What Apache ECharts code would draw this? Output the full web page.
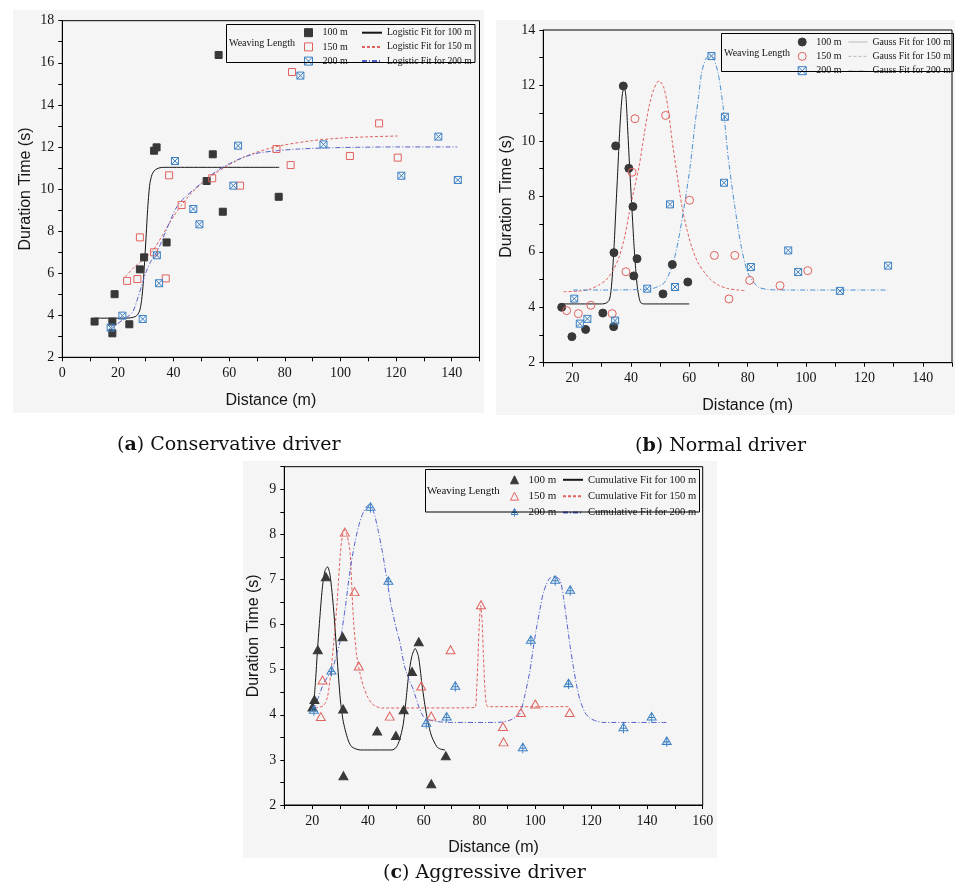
<!DOCTYPE html>
<html>
<head>
<meta charset="utf-8">
<script src="https://cdn.jsdelivr.net/npm/echarts@6/dist/echarts.min.js"></script>
<style>
  html, body { margin: 0; padding: 0; background: #ffffff; }
  #chart { width: 955px; height: 891px; }
</style>
</head>
<body>
<div id="chart"></div>
<script>
// ---------- (a) Conservative driver: observations ----------
const consDist100 = [11.6, 18.0, 18.0, 18.8, 24.1, 27.9, 29.4, 33.0, 33.9, 37.5, 51.9, 54.1, 56.2, 57.7, 77.8];
const consTime100 = [3.7, 3.7, 3.14, 5.0, 3.57, 6.18, 6.75, 11.82, 11.98, 7.46, 10.38, 11.65, 16.37, 8.92, 9.63];
const consDist150 = [23.3, 27.0, 27.9, 33.0, 37.2, 38.4, 42.9, 53.9, 63.9, 77.0, 82.1, 82.6, 103.4, 113.9, 120.6];
const consTime150 = [5.63, 5.72, 7.7, 6.99, 5.75, 10.65, 9.24, 10.51, 10.16, 11.9, 11.14, 15.56, 11.57, 13.12, 11.49];
const consDist200 = [17.4, 21.6, 28.9, 34.0, 34.8, 40.5, 47.1, 49.3, 61.5, 63.2, 85.6, 93.9, 121.9, 135.2, 142.2];
const consTime200 = [3.41, 3.98, 3.82, 6.85, 5.52, 11.33, 9.05, 8.32, 10.16, 12.06, 15.39, 12.12, 10.63, 12.49, 10.43];

// (a) logistic fit curves, [distance, time]
const consFit100 = [[11.6,3.86],[20,3.86],[24,3.87],[26.2,3.93],[27.2,4.05],[27.9,4.25],[28.5,4.7],[29.1,5.52],[29.7,6.78],[30.2,7.9],[30.6,8.85],[31.0,9.6],[31.5,10.27],[32.3,10.7],[33.3,10.9],[34.8,11.0],[36.3,11.03],[78,11.03]];
const consFit150 = [[22.6,5.83],[26,6.3],[30,6.75],[32.7,7.1],[36,7.8],[40,8.7],[42.9,9.24],[46,9.75],[50,10.25],[55,10.75],[60,11.15],[65,11.5],[70,11.75],[75,11.95],[80,12.1],[90,12.3],[100,12.42],[110,12.48],[120.6,12.52]];
const consFit200 = [[17.2,3.3],[19.5,3.55],[21.9,3.8],[24,3.98],[25.5,4.2],[27.3,4.88],[29,5.6],[30.4,6.15],[32,6.6],[34,7.0],[36,7.6],[38.5,8.4],[41.2,9.16],[44,9.6],[47.1,9.95],[51.9,10.5],[56,10.9],[60,11.2],[65,11.5],[70,11.7],[78,11.83],[85,11.9],[94,11.95],[105,11.98],[120,12.0],[142,12.0]];

// ---------- (b) Normal driver: observations ----------
const normDist100 = [16.3, 19.8, 24.5, 30.4, 34.1, 34.2, 34.8, 37.4, 39.3, 40.7, 41.0, 42.1, 51.0, 54.2, 59.5];
const normTime100 = [4.0, 2.94, 3.2, 3.79, 3.3, 5.97, 9.82, 11.98, 9.01, 7.63, 5.13, 5.75, 4.48, 5.54, 4.91];
const normDist150 = [18.0, 22.0, 26.3, 33.6, 38.3, 40.4, 41.4, 51.9, 60.1, 68.6, 73.6, 75.6, 80.7, 91.1, 100.6];
const normTime150 = [3.88, 3.77, 4.07, 3.77, 5.28, 8.87, 10.8, 10.92, 7.86, 5.87, 4.3, 5.87, 4.97, 4.78, 5.32];
const normDist200 = [20.6, 22.5, 25.1, 34.6, 45.6, 53.4, 55.1, 67.6, 71.9, 72.2, 81.1, 93.9, 97.3, 111.6, 128.1];
const normTime200 = [4.31, 3.41, 3.58, 3.52, 4.67, 7.71, 4.73, 13.06, 8.49, 10.87, 5.45, 6.05, 5.27, 4.59, 5.5];

// (b) Gauss fit curves
const normFit100 = [[16,4.12],[30,4.12],[31.5,4.15],[32.6,4.26],[33.2,4.6],[33.7,5.23],[34.3,6.3],[34.9,7.63],[35.5,8.9],[36.0,10.03],[36.6,11.1],[37.1,11.7],[37.7,11.96],[38.3,11.6],[38.8,10.64],[39.4,9.4],[40.0,8.23],[40.6,7.1],[41.1,6.19],[41.7,5.3],[42.2,4.74],[42.8,4.35],[43.4,4.16],[44.5,4.12],[60,4.12]];
const normFit150 = [[17,4.56],[22,4.58],[26,4.65],[29,4.8],[31.5,4.98],[34,5.35],[36,5.82],[38,6.6],[39.4,7.39],[41,8.2],[42.8,9.07],[44.5,10.2],[46.2,11.23],[47.8,11.85],[49.6,12.17],[51.2,11.95],[52.7,11.2],[54.1,10.03],[55.8,8.8],[57.5,7.63],[59.2,6.8],[60.8,6.19],[63,5.6],[65.4,5.23],[67.5,4.98],[69.9,4.8],[73,4.68],[76.7,4.62],[78.9,4.6]];
const normFit200 = [[20.2,4.62],[30,4.62],[40,4.63],[45,4.65],[47.9,4.69],[51.3,4.87],[54.1,5.46],[56.3,6.43],[58.6,7.87],[60.3,9.07],[62.0,10.64],[63.2,11.6],[64.2,12.44],[65.6,12.95],[67.1,13.1],[68.6,12.9],[69.9,12.44],[71.6,11.23],[73.3,9.43],[75.6,7.63],[77.8,6.19],[80.1,5.23],[83.5,4.74],[87,4.64],[95,4.62],[128,4.62]];

// ---------- (c) Aggressive driver: observations ----------
const aggrDist100 = [20.1, 20.8, 22.0, 24.9, 30.9, 31.1, 31.2, 43.3, 50.0, 52.8, 55.8, 58.2, 62.7, 67.9];
const aggrTime100 = [4.17, 4.34, 5.44, 7.06, 5.73, 4.13, 2.65, 3.64, 3.54, 4.11, 4.96, 5.62, 2.47, 3.09];
const aggrDist150 = [23.1, 23.7, 31.7, 35.2, 36.7, 47.8, 59.1, 62.7, 69.6, 80.5, 88.4, 88.6, 94.8, 100.0, 112.3];
const aggrTime150 = [3.96, 4.77, 8.05, 6.73, 5.08, 3.97, 4.64, 3.97, 5.44, 6.44, 3.74, 3.4, 4.05, 4.24, 4.05];
const aggrDist200 = [20.6, 26.9, 40.9, 47.3, 60.9, 68.2, 71.3, 95.5, 98.4, 107.1, 111.9, 112.5, 131.6, 141.7, 147.1];
const aggrTime200 = [4.09, 4.96, 8.59, 6.95, 3.8, 3.94, 4.62, 3.26, 5.64, 6.97, 4.68, 6.75, 3.7, 3.94, 3.4];

// (c) cumulative fit curves
const aggrFit100 = [[20.5,4.2],[21.2,4.75],[21.9,5.44],[22.8,6.2],[23.7,6.85],[24.6,7.2],[25.5,7.28],[26.4,7.1],[27.7,6.32],[28.9,5.29],[30.1,4.33],[31.0,3.9],[31.8,3.67],[33,3.42],[34.2,3.29],[37.2,3.22],[48.6,3.22],[50,3.27],[50.9,3.37],[51.8,3.55],[52.7,3.81],[53.6,4.3],[54.5,4.84],[55.7,5.29],[56.9,5.47],[58.1,5.29],[59.3,4.7],[60.2,4.3],[61.1,3.96],[62.0,3.7],[62.9,3.51],[64.7,3.29],[66,3.24],[67.6,3.22]];
const aggrFit150 = [[21,4.15],[24,4.2],[25.5,4.4],[26.8,5.0],[28.0,5.8],[28.9,6.47],[30.1,7.58],[30.8,7.95],[31.5,8.1],[32.3,8.0],[33.0,7.85],[33.6,7.58],[34.8,6.1],[36.0,5.29],[37.2,4.9],[38.4,4.62],[40,4.38],[41.4,4.25],[43,4.18],[45,4.15],[78.3,4.16],[78.9,4.5],[79.4,5.2],[79.9,6.0],[80.4,6.42],[80.9,6.1],[81.4,5.3],[81.9,4.6],[82.4,4.25],[83,4.18],[112.4,4.18]];
const aggrFit200 = [[20.5,4.11],[22.3,4.4],[24.1,4.7],[25.6,4.85],[27.1,4.99],[28.6,5.3],[30.1,5.66],[31.9,6.4],[33.6,7.21],[35.1,7.75],[36.6,8.17],[38.4,8.5],[40.2,8.65],[42,8.5],[43.6,8.1],[45.2,7.6],[46.8,6.99],[48.4,6.4],[50,5.95],[51.5,5.59],[53,5.1],[54.6,4.8],[56.3,4.55],[58.1,4.2],[59.9,3.96],[62.3,3.88],[64.7,3.85],[70,3.83],[85,3.83],[88,3.84],[90.9,3.88],[92.7,3.94],[94.5,4.03],[96.3,4.45],[98.1,4.99],[99.3,5.5],[100.5,5.95],[101.7,6.35],[102.8,6.69],[104,6.9],[105.2,7.03],[107,7.06],[108.8,6.99],[110,6.65],[111.2,6.1],[112.4,5.55],[113.6,5.07],[114.8,4.65],[116.0,4.33],[117.8,4.05],[119.6,3.92],[122,3.86],[124.3,3.83],[147,3.83]];

// ---------- tick values ----------
const consXTicks = [0, 20, 40, 60, 80, 100, 120, 140];
const consYTicks = [2, 4, 6, 8, 10, 12, 14, 16, 18];
const normXTicks = [20, 40, 60, 80, 100, 120, 140];
const normYTicks = [2, 4, 6, 8, 10, 12, 14];
const aggrXTicks = [20, 40, 60, 80, 100, 120, 140, 160];
const aggrYTicks = [2, 3, 4, 5, 6, 7, 8, 9];

const lengthLabels = ['100 m', '150 m', '200 m'];

// ---------- styling ----------
const SERIF = 'Liberation Serif';
const SANS = 'Liberation Sans';
const INK = '#151515';
const DARK = '#383838';
const RED = '#e0625f';
const BLUE = '#3c80c4';
const VIOLET = '#5360cc';

const BOX_X = 'path://M0,0H10V10H0Z M0,0L10,10 M10,0L0,10';
const TRI_PLUS = 'path://M5,0L10,9H0Z M5,0V12 M1.2,6H8.8';

const zip = (xs, ys) => xs.map((x, i) => [x, ys[i]]);
const pick = list => v => (list.indexOf(v) >= 0 ? String(v) : '');

function makeAxes(g, xr, yr, xTicks, yTicks, yGap) {
  const common = {
    gridIndex: g,
    type: 'value',
    nameLocation: 'middle',
    nameTextStyle: { fontFamily: SANS, fontSize: 16, color: INK },
    axisLine: { show: true, onZero: false, lineStyle: { color: '#000', width: 1 } },
    axisTick: { show: true, inside: false, length: 4, lineStyle: { color: '#000', width: 1 } },
    splitLine: { show: false },
    axisLabel: { fontFamily: SERIF, fontSize: 14, color: INK, margin: 9 }
  };
  const x = Object.assign({}, common, {
    name: 'Distance (m)', nameGap: 35,
    min: xr[0], max: xr[1], interval: 10,
    axisLabel: Object.assign({}, common.axisLabel, { formatter: pick(xTicks) })
  });
  const y = Object.assign({}, common, {
    name: 'Duration Time (s)', nameGap: yGap,
    min: yr[0], max: yr[1], interval: yr[2],
    axisLabel: Object.assign({}, common.axisLabel, { margin: 8, formatter: pick(yTicks) })
  });
  return [x, y];
}

const [ax, ay] = makeAxes(0, [0, 150], [2, 18, 1], consXTicks, consYTicks, 29);
const [bx, by] = makeAxes(1, [10, 150], [2, 14, 1], normXTicks, normYTicks, 29);
const [cx, cy] = makeAxes(2, [10, 160], [2, 9.5, 0.5], aggrXTicks, aggrYTicks, 23);

function scatter(name, g, data, symbol, size, fill, stroke) {
  return {
    type: 'scatter', name, xAxisIndex: g, yAxisIndex: g, data,
    symbol, symbolSize: size, symbolKeepAspect: false, z: 4, silent: true,
    itemStyle: { color: fill, borderColor: stroke, borderWidth: 1, opacity: 1 }
  };
}
function fit(name, g, data, color, type, width) {
  return {
    type: 'line', name, xAxisIndex: g, yAxisIndex: g, data,
    symbol: 'none', showSymbol: false, smooth: 0.25, z: 3, silent: true,
    itemStyle: { color, opacity: 0 },
    lineStyle: { color, width: width || 1, type }
  };
}

const DASH = [3, 2];
const DASHDOT = [5, 2, 1, 2];

const series = [
  fit('a|Logistic Fit for 100 m', 0, consFit100, INK, 'solid'),
  fit('a|Logistic Fit for 150 m', 0, consFit150, RED, DASH),
  fit('a|Logistic Fit for 200 m', 0, consFit200, VIOLET, DASHDOT),
  scatter('a|100 m', 0, zip(consDist100, consTime100), 'rect', 7, DARK, DARK),
  scatter('a|150 m', 0, zip(consDist150, consTime150), 'rect', 7, 'transparent', RED),
  scatter('a|200 m', 0, zip(consDist200, consTime200), BOX_X, 7, 'transparent', BLUE),

  fit('b|Gauss Fit for 100 m', 1, normFit100, INK, 'solid'),
  fit('b|Gauss Fit for 150 m', 1, normFit150, RED, DASH),
  fit('b|Gauss Fit for 200 m', 1, normFit200, '#4a8fd2', DASHDOT),
  scatter('b|100 m', 1, zip(normDist100, normTime100), 'circle', 8, DARK, DARK),
  scatter('b|150 m', 1, zip(normDist150, normTime150), 'circle', 8, 'transparent', RED),
  scatter('b|200 m', 1, zip(normDist200, normTime200), BOX_X, 7, 'transparent', BLUE),

  fit('c|Cumulative Fit for 100 m', 2, aggrFit100, INK, 'solid'),
  fit('c|Cumulative Fit for 150 m', 2, aggrFit150, RED, DASH),
  fit('c|Cumulative Fit for 200 m', 2, aggrFit200, VIOLET, DASHDOT),
  scatter('c|100 m', 2, zip(aggrDist100, aggrTime100), 'triangle', [9, 8], DARK, DARK),
  scatter('c|150 m', 2, zip(aggrDist150, aggrTime150), 'triangle', [9, 8], 'transparent', RED),
  scatter('c|200 m', 2, zip(aggrDist200, aggrTime200), TRI_PLUS, [9, 10], 'transparent', BLUE)
];

const stripPanel = name => name.slice(2);

function legend(panel, names, left, top, iw, ih, gap, fs, padLeft, isLine, lineStyle) {
  return {
    show: true, orient: 'vertical', left, top, padding: 0,
    itemWidth: iw, itemHeight: ih, itemGap: gap,
    selectedMode: false, inactiveColor: '#ccc',
    data: names.map(n => panel + '|' + n),
    formatter: stripPanel,
    itemStyle: isLine ? { opacity: 0, borderWidth: 0 } : { borderWidth: 1 },
    lineStyle: lineStyle || {},
    textStyle: { fontFamily: SERIF, fontSize: fs, lineHeight: ih, color: INK, padding: [0, 0, 0, padLeft] }
  };
}

const fitNames = kind => lengthLabels.map(l => kind + ' Fit for ' + l);

const legends = [
  legend('a', lengthLabels, 304, 27.7, 8, 8, 4.2, 10, 5, false),
  legend('a', fitNames('Logistic'), 361, 27.7, 20, 8, 4.2, 9.6, 0, true),
  legend('b', lengthLabels, 797.7, 37, 8, 8, 4.35, 10, 5, false),
  legend('b', fitNames('Gauss'), 848, 37, 19, 8, 4.35, 9.8, 0, true, { color: '#a8a8a8', width: 0.8 }),
  legend('c', lengthLabels, 510, 474.3, 8, 8, 5.35, 11, 5, false),
  legend('c', fitNames('Cumulative'), 562, 474.3, 20, 8, 5.35, 10.6, 0, true)
];

// panel backdrops, legend frames and the legend heading
const graphics = [
  { type: 'rect', z: -10, shape: { x: 13, y: 10, width: 471, height: 403 }, style: { fill: '#f5f5f5' } },
  { type: 'rect', z: -10, shape: { x: 496, y: 20, width: 459, height: 395 }, style: { fill: '#f5f5f5' } },
  { type: 'rect', z: -10, shape: { x: 243, y: 461, width: 474, height: 397 }, style: { fill: '#f5f5f5' } },
  { type: 'rect', z: 5, shape: { x: 226.5, y: 24.5, width: 248.5, height: 38 }, style: { fill: 'none', stroke: '#000', lineWidth: 1 } },
  { type: 'rect', z: 5, shape: { x: 721.5, y: 33.5, width: 232, height: 38 }, style: { fill: 'none', stroke: '#000', lineWidth: 1 } },
  { type: 'rect', z: 5, shape: { x: 425.5, y: 469.5, width: 274, height: 42.5 }, style: { fill: 'none', stroke: '#000', lineWidth: 1 } },
  { type: 'text', z: 6, x: 229, y: 43.7, style: { text: 'Weaving Length', fontFamily: SERIF, fontSize: 10, fill: INK, verticalAlign: 'middle' } },
  { type: 'text', z: 6, x: 724, y: 53.3, style: { text: 'Weaving Length', fontFamily: SERIF, fontSize: 10, fill: INK, verticalAlign: 'middle' } },
  { type: 'text', z: 6, x: 427, y: 491.5, style: { text: 'Weaving Length', fontFamily: SERIF, fontSize: 11, fill: INK, verticalAlign: 'middle' } }
];

function caption(letter, rest, left, top) {
  return {
    text: '({b|' + letter + '}) ' + rest,
    left, top, padding: 0,
    textStyle: {
      fontFamily: 'DejaVu Serif', fontSize: 19, fontWeight: 'normal', color: '#111',
      rich: { b: { fontFamily: 'DejaVu Serif', fontSize: 19, fontWeight: 'bold', color: '#111' } }
    }
  };
}

const gridBase = { show: true, borderColor: '#000', borderWidth: 1, backgroundColor: 'transparent', containLabel: false };

const option = {
  animation: false,
  backgroundColor: '#ffffff',
  title: [
    caption('a', 'Conservative driver', 117, 436),
    caption('b', 'Normal driver', 635, 437),
    caption('c', 'Aggressive driver', 383, 864)
  ],
  grid: [
    Object.assign({ left: 62.3, top: 20.7, width: 417.2, height: 336.6 }, gridBase),
    Object.assign({ left: 543.3, top: 30, width: 413, height: 332.7 }, gridBase),
    Object.assign({ left: 284.3, top: 466.7, width: 418.4, height: 338.3 }, gridBase)
  ],
  xAxis: [ax, bx, cx],
  yAxis: [ay, by, cy],
  legend: legends,
  graphic: graphics,
  series
};

const chart = echarts.init(document.getElementById('chart'), null, { renderer: 'canvas' });
chart.setOption(option);
</script>
</body>
</html>
